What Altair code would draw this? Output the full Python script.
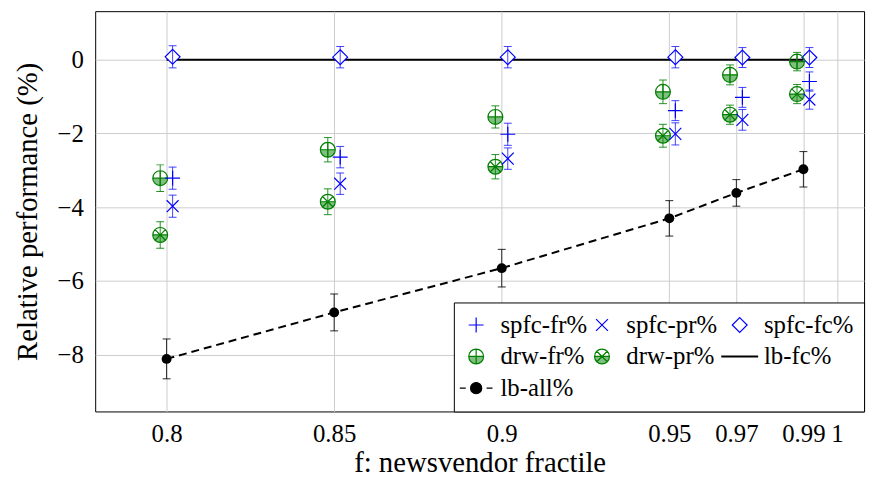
import altair as alt
import pandas as pd

# ---------------- data ----------------
fractiles = [0.8, 0.85, 0.9, 0.95, 0.97, 0.99]

spfc_fr = [-3.21, -2.64, -2.02, -1.38, -1.02, -0.59]
spfc_fr_err = [0.30, 0.29, 0.30, 0.27, 0.27, 0.26]
spfc_pr = [-3.97, -3.36, -2.68, -2.01, -1.63, -1.08]
spfc_pr_err = [0.30, 0.29, 0.29, 0.30, 0.28, 0.26]
spfc_fc = [0.08, 0.07, 0.07, 0.07, 0.06, 0.06]
spfc_fc_err = [0.30, 0.29, 0.29, 0.29, 0.27, 0.27]
drw_fr = [-3.21, -2.44, -1.55, -0.87, -0.41, -0.05]
drw_fr_err = [0.36, 0.33, 0.30, 0.32, 0.27, 0.25]
drw_pr = [-4.75, -3.85, -2.90, -2.06, -1.49, -0.93]
drw_pr_err = [0.36, 0.35, 0.33, 0.31, 0.26, 0.26]
lb_fc = [0.0, 0.0, 0.0, 0.0, 0.0, 0.0]
lb_all = [-8.11, -6.85, -5.65, -4.30, -3.61, -2.97]
lb_all_err = [0.54, 0.50, 0.51, 0.48, 0.36, 0.48]

series_names = ["spfc-fr%", "spfc-pr%", "spfc-fc%", "drw-fr%", "drw-pr%", "lb-fc%", "lb-all%"]
x_ticks = [0.8, 0.85, 0.9, 0.95, 0.97, 0.99, 1.0]
y_ticks = [-8, -6, -4, -2, 0]

# small horizontal shift of the two marker families (as in the figure)
SHIFT_SPFC = 0.0018
SHIFT_DRW = -0.0019

# ---------------- styles ----------------
BLUE = "#0000ff"
GREEN = "#008000"
GREEN_FILL = "#80bf80"
FONT = "Liberation Serif"
FS = 25
FS_TITLE = 29
FS_LEG = 25

CIRCLE_CW = "M-1,0A1,1 0 1,1 1,0A1,1 0 1,1 -1,0Z"
UPPER_CCW = "M-1,0L1,0A1,1 0 0,0 -1,0Z"
P_PLUS = "M-1,0L1,0M0,-1L0,1"
P_CROSS = "M-0.8,-0.8L0.8,0.8M-0.8,0.8L0.8,-0.8"
P_DIAMOND = "M0,-1L1,0L0,1L-1,0Z"
P_OPLUS = CIRCLE_CW + UPPER_CCW + "M0,-1L0,1"
P_OTIMES = CIRCLE_CW + UPPER_CCW + "M-0.707,-0.707L0.707,0.707M-0.707,0.707L0.707,-0.707"
P_LINE = "M-2.4,-0.06L2.4,-0.06L2.4,0.06L-2.4,0.06Z"
P_DASHDOT = ("M-2.2,0L-1.4,0M1.4,0L2.2,0"
             "M-0.75,0A0.75,0.75 0 1,1 0.75,0A0.75,0.75 0 1,1 -0.75,0Z")

leg_shapes = [P_PLUS, P_CROSS, P_DIAMOND, P_OPLUS, P_OTIMES, P_LINE, P_DASHDOT]
leg_fills = ["transparent", "transparent", "white", GREEN_FILL, GREEN_FILL, "black", "black"]
leg_strokes = [BLUE, BLUE, BLUE, GREEN, GREEN, "black", "black"]


def frame(values, errs, shift):
    return pd.DataFrame({
        "f": fractiles,
        "x": [f + shift for f in fractiles],
        "y": values,
        "lo": [v - e for v, e in zip(values, errs)],
        "hi": [v + e for v, e in zip(values, errs)],
    })


xscale = alt.Scale(domain=[0.7787, 1.0081], nice=False, zero=False)
yscale = alt.Scale(domain=[-9.535, 1.317], nice=False, zero=False)

xaxis = alt.Axis(values=x_ticks, labelExpr="toString(datum.value)", title="f: newsvendor fractile",
                 grid=True, ticks=False, domain=False, labelPadding=10, titlePadding=3)
yaxis = alt.Axis(values=y_ticks, title="Relative performance (%)", grid=True, ticks=False,
                 domain=False, labelPadding=12, titlePadding=15)


def X(field="x"):
    return alt.X(f"{field}:Q", scale=xscale, axis=xaxis)


def Y(field="y"):
    return alt.Y(f"{field}:Q", scale=yscale, axis=yaxis)


layers = []

# lb-fc solid line
df_lbfc = frame(lb_fc, [0] * 6, 0.0)
layers.append(alt.Chart(df_lbfc).mark_line(color="black", strokeWidth=2).encode(x=X("f"), y=Y()))

# lb-all dashed line
df_lball = frame(lb_all, lb_all_err, 0.0)
layers.append(alt.Chart(df_lball).mark_line(color="black", strokeWidth=2, strokeDash=[8, 5]).encode(
    x=X(), y=Y()))

marker_series = [
    (frame(spfc_fc, spfc_fc_err, SHIFT_SPFC), P_DIAMOND, "white", BLUE, BLUE, 0.75),
    (frame(drw_fr, drw_fr_err, SHIFT_DRW), P_OPLUS, GREEN_FILL, GREEN, GREEN, 0.85),
    (frame(drw_pr, drw_pr_err, SHIFT_DRW), P_OTIMES, GREEN_FILL, GREEN, GREEN, 0.85),
    (frame(spfc_fr, spfc_fr_err, SHIFT_SPFC), P_PLUS, "transparent", BLUE, BLUE, 0.75),
    (frame(spfc_pr, spfc_pr_err, SHIFT_SPFC), P_CROSS, "transparent", BLUE, BLUE, 0.75),
]

for df, shape, fill, stroke, ecol, eop in marker_series:
    base = alt.Chart(df)
    layers.append(base.mark_point(shape=shape, size=225, filled=True, fill=fill, stroke=stroke,
                                  strokeWidth=1.2, opacity=1).encode(x=X(), y=Y()))
    layers.append(base.mark_rule(color=ecol, opacity=eop, strokeWidth=1).encode(
        x=X(), y=Y("lo"), y2="hi"))
    for fld in ("lo", "hi"):
        layers.append(base.mark_tick(color=ecol, opacity=eop, orient="horizontal", size=8,
                                     thickness=1).encode(x=X(), y=Y(fld)))

# lb-all points + error bars
base = alt.Chart(df_lball)
layers.append(base.mark_rule(color="black", opacity=0.85, strokeWidth=1).encode(
    x=X(), y=Y("lo"), y2="hi"))
for fld in ("lo", "hi"):
    layers.append(base.mark_tick(color="black", opacity=0.85, orient="horizontal", size=8,
                                 thickness=1).encode(x=X(), y=Y(fld)))
layers.append(base.mark_circle(size=100, color="black", opacity=1).encode(x=X(), y=Y()))

# legend (drawn through scales of an invisible layer)
legend = alt.Legend(title=None, orient="bottom-right", offset=0, columns=3, direction="horizontal",
                    strokeColor="black", fillColor="white", padding=10,
                    symbolSize=225, symbolStrokeWidth=1.2, symbolOpacity=1,
                    labelFont=FONT, labelFontSize=FS_LEG, labelOffset=12, labelLimit=0,
                    columnPadding=2, rowPadding=6, symbolLimit=0)
df_leg = pd.DataFrame({"series": series_names})
layers.append(alt.Chart(df_leg).mark_point(opacity=0, filled=True).encode(
    shape=alt.Shape("series:N", scale=alt.Scale(domain=series_names, range=leg_shapes), legend=legend),
    fill=alt.Fill("series:N", scale=alt.Scale(domain=series_names, range=leg_fills), legend=legend),
    stroke=alt.Stroke("series:N", scale=alt.Scale(domain=series_names, range=leg_strokes), legend=legend),
))

chart = alt.layer(*layers).properties(
    width=776, height=404,
    padding={"left": 5, "top": 1, "right": 5, "bottom": 2},
).configure_view(stroke="black", strokeWidth=1).configure_axis(
    labelFont=FONT, titleFont=FONT, labelFontSize=FS, titleFontSize=FS_TITLE,
    titleFontWeight="normal", labelColor="black", titleColor="black",
    gridColor="#cccccc", gridWidth=1,
)

chart.save("out.html", embed_options={"renderer": "svg", "actions": False})
